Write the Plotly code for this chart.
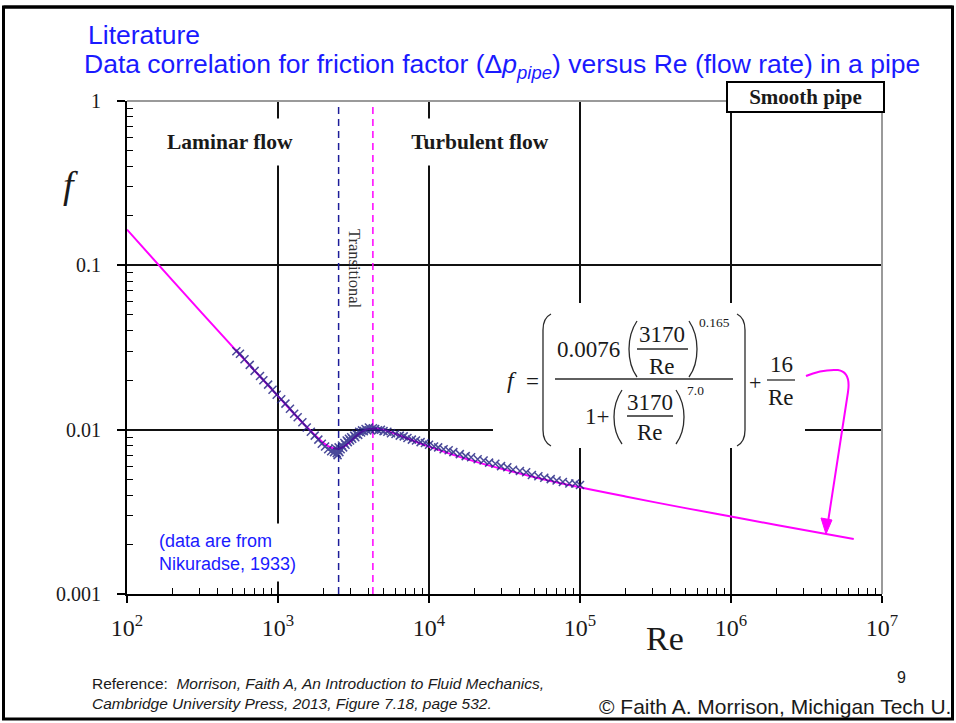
import plotly.graph_objects as go

# ---------------- data ----------------
RE_CURVE = [100, 200, 500, 1000, 1500, 2000, 2250, 2500, 2750, 3000, 3250, 3500,
            3750, 4000, 4500, 5000, 6000, 7000, 10000, 20000, 50000, 100000,
            200000, 500000, 1000000, 2000000, 6500000]
F_CURVE = [0.165, 0.081, 0.032, 0.0160, 0.0107, 0.0083, 0.00778, 0.00766, 0.00792,
           0.00844, 0.00904, 0.00956, 0.00992, 0.01011, 0.01016, 0.00997, 0.00943,
           0.00893, 0.00789, 0.00641, 0.00514, 0.00446, 0.00392, 0.00333, 0.00296,
           0.00263, 0.00216]

RE_DATA = [530, 560, 600, 650, 700, 760, 800, 860, 920, 980, 1050, 1120, 1200, 1280,
           1350, 1450, 1550, 1650, 1750, 1850, 1950, 2050, 2150, 2250, 2350, 2450,
           2500, 2550,
           2400, 2480, 2520, 2600, 2650, 2700, 2750, 2800, 2850, 2900, 2950, 3000,
           3050, 3100, 3200, 3250, 3300, 3400, 3450, 3550, 3600, 3700, 3800, 3900,
           4000, 4100, 4250,
           4400, 4600, 4800, 5000, 5300, 5600, 6000, 6400, 6800, 7200, 7700, 8200,
           8800, 9400, 10000, 10800, 11500, 12500, 13500, 14500, 16000, 17500,
           19000, 21000, 23000, 25000, 27500, 30000, 33000, 36000, 40000, 44000,
           48000, 53000, 58000, 64000, 70000, 77000, 85000, 93000, 100000]
F_DATA = [0.0300, 0.0290, 0.0268, 0.0248, 0.0228, 0.0212, 0.0200, 0.0188, 0.0175,
          0.0163, 0.0153, 0.0144, 0.0134, 0.0125, 0.0119, 0.0111, 0.0103, 0.0097,
          0.0092, 0.0087, 0.0082, 0.0079, 0.0076, 0.0074, 0.0073, 0.0072, 0.0075,
          0.0073,
          0.0077, 0.0070, 0.0078, 0.0076, 0.0080, 0.0078, 0.0083, 0.0081, 0.0086,
          0.0084, 0.0088, 0.0086, 0.0090, 0.0088, 0.0092, 0.0090, 0.0094, 0.0093,
          0.0097, 0.0096, 0.0099, 0.0098, 0.0101, 0.0099, 0.0103, 0.0100, 0.0102,
          0.0101, 0.0099, 0.0100, 0.0098, 0.0097, 0.0095, 0.0094, 0.0092, 0.0091,
          0.0089, 0.0087, 0.0086, 0.0084, 0.0083, 0.0081, 0.0079, 0.0078, 0.0076,
          0.0075, 0.0073, 0.0071, 0.0069, 0.0068, 0.0066, 0.0065, 0.0063, 0.0062,
          0.0060, 0.0059, 0.0057, 0.0056, 0.0055, 0.0053, 0.0052, 0.0051, 0.0050,
          0.0049, 0.0048, 0.0047, 0.0047, 0.0046]

RE_LAMINAR_LIMIT = 2520     # blue dashed line
RE_TURBULENT_START = 4250   # magenta dashed line
F_RANGE = [0.001, 1]

X_TICKS = [1e2, 1e3, 1e4, 1e5, 1e6, 1e7]
X_TICKTEXT = ["10<sup>2</sup>", "10<sup>3</sup>", "10<sup>4</sup>", "10<sup>5</sup>",
              "10<sup>6</sup>", "10<sup>7</sup>"]
Y_TICKS = [0.001, 0.01, 0.1, 1]
Y_TICKTEXT = ["0.001", "0.01", "0.1", "1"]

X_MINOR = [m * 10 ** k for k in range(2, 7) for m in range(2, 10)]
Y_MINOR = [m * 10.0 ** k for k in range(-3, 0) for m in range(2, 10)]

# ---------------- layout geometry ----------------
W, H = 956, 723
ML, MR, MT, MB = 127, 74, 101, 129
PW, PH = W - ML - MR, H - MT - MB


def px(x):
    return (x - ML) / PW


def py(y):
    return (H - MB - y) / PH


def path(points_cmds):
    out = []
    for item in points_cmds:
        if isinstance(item, str):
            out.append(item)
        else:
            out.append(f"{px(item[0]):.5f},{py(item[1]):.5f}")
    return " ".join(out)


SERIF = "Liberation Serif, Times New Roman, serif"
SANS = "Liberation Sans, Arial, sans-serif"
BLUE = "#1a1aff"
MAG = "#ff00ff"
INK = "#1a1a1a"

fig = go.Figure()

fig.add_trace(go.Scatter(x=[RE_LAMINAR_LIMIT, RE_LAMINAR_LIMIT], y=F_RANGE, mode="lines",
                         line=dict(color="#1c1c99", width=1.5, dash="7px,5px"),
                         hoverinfo="skip", showlegend=False))
fig.add_trace(go.Scatter(x=[RE_TURBULENT_START, RE_TURBULENT_START], y=F_RANGE, mode="lines",
                         line=dict(color=MAG, width=1.5, dash="7px,5px"),
                         hoverinfo="skip", showlegend=False))
fig.add_trace(go.Scatter(x=RE_CURVE, y=F_CURVE, mode="lines", line=dict(color=MAG, width=2),
                         line_shape="spline", showlegend=False))
fig.add_trace(go.Scatter(x=RE_DATA, y=F_DATA, mode="markers",
                         marker=dict(symbol="x-thin", size=8,
                                     line=dict(color="#1d1d80", width=1.5)),
                         opacity=0.8, showlegend=False))

shapes = []
# formula white background
shapes.append(dict(type="rect", xref="paper", yref="paper", x0=px(493), x1=px(805),
                   y0=py(448), y1=py(303), fillcolor="white", line=dict(width=0),
                   layer="above"))
# gray top and right frame
shapes.append(dict(type="line", xref="paper", yref="paper", x0=0, x1=1, y0=1, y1=1,
                   line=dict(color="#9a9a9a", width=2), layer="above"))
shapes.append(dict(type="line", xref="paper", yref="paper", x0=1, x1=1, y0=0, y1=1,
                   line=dict(color="#9a9a9a", width=2), layer="above"))

pc = "#2a2a2a"
# big parentheses
shapes.append(dict(type="path", xref="paper", yref="paper", layer="above",
                   path=path(["M", (551, 314), "Q", (543, 318), (543, 330), "L", (543, 430),
                              "Q", (543, 442), (551, 446)]), line=dict(color=pc, width=1.3)))
shapes.append(dict(type="path", xref="paper", yref="paper", layer="above",
                   path=path(["M", (737, 314), "Q", (745, 318), (745, 330), "L", (745, 430),
                              "Q", (745, 442), (737, 446)]), line=dict(color=pc, width=1.3)))
# numerator small parentheses
shapes.append(dict(type="path", xref="paper", yref="paper", layer="above",
                   path=path(["M", (637, 321), "Q", (629, 333), (629, 349), "Q", (629, 366), (637, 377)]),
                   line=dict(color=pc, width=1.3)))
shapes.append(dict(type="path", xref="paper", yref="paper", layer="above",
                   path=path(["M", (689, 321), "Q", (697, 333), (697, 349), "Q", (697, 366), (689, 377)]),
                   line=dict(color=pc, width=1.3)))
# denominator small parentheses
shapes.append(dict(type="path", xref="paper", yref="paper", layer="above",
                   path=path(["M", (622, 390), "Q", (614, 402), (614, 417), "Q", (614, 433), (622, 444)]),
                   line=dict(color=pc, width=1.3)))
shapes.append(dict(type="path", xref="paper", yref="paper", layer="above",
                   path=path(["M", (676, 390), "Q", (684, 402), (684, 417), "Q", (684, 433), (676, 444)]),
                   line=dict(color=pc, width=1.3)))
# fraction bars
for x0, x1, y in [(555, 733, 379), (637, 688, 349), (627, 673, 416), (767, 795, 380)]:
    shapes.append(dict(type="line", xref="paper", yref="paper", layer="above",
                       x0=px(x0), x1=px(x1), y0=py(y), y1=py(y),
                       line=dict(color=pc, width=1.3)))
# magenta curved pointer
shapes.append(dict(type="path", xref="paper", yref="paper", layer="above",
                   path=path(["M", (806, 376), "Q", (822, 369), (838, 370), "Q", (851, 372),
                              (848, 392), "L", (828, 522)]),
                   line=dict(color=MAG, width=2)))
shapes.append(dict(type="path", xref="paper", yref="paper", layer="above",
                   path=path(["M", (826, 534), "L", (821, 518), "L", (832, 520), "Z"]),
                   fillcolor=MAG, line=dict(color=MAG, width=1)))
# slide border
shapes.append(dict(type="rect", xref="paper", yref="paper", x0=px(3.5), x1=px(952.5),
                   y0=py(719), y1=py(7), line=dict(color="black", width=3),
                   fillcolor="rgba(0,0,0,0)", layer="above"))
shapes.append(dict(type="line", xref="paper", yref="paper", x0=px(3.5), x1=px(952.5),
                   y0=py(7), y1=py(7), line=dict(color="black", width=3), layer="above"))

ann = []


def A(text, x, y, size, font=SERIF, color=INK, xa="center", ya="middle", **kw):
    ann.append(dict(text=text, x=px(x), y=py(y), xref="paper", yref="paper",
                    xanchor=xa, yanchor=ya, showarrow=False,
                    font=dict(family=font, size=size, color=color), **kw))


# titles
A("Literature", 86, 35, 26.5, font=SANS, color=BLUE, xa="left")
A("Data correlation for friction factor (Δ<i>p</i><sub><i>pipe</i></sub>) versus Re (flow rate) in a pipe",
  82, 66, 26.5, font=SANS, color=BLUE, xa="left")
# in-plot labels
A("<b>Smooth pipe</b>", 805.5, 97, 21, bgcolor="white", bordercolor="black", borderwidth=2,
  width=155, height=28, borderpad=0)
A("<b>Laminar flow</b>", 230, 142, 21.5, bgcolor="white", width=140, height=44)
A("<b>Turbulent flow</b>", 480, 142, 21.5, bgcolor="white", width=156, height=44)
A("Transitional", 355, 269, 16.5, color="#333333", textangle=90)
A("(data are from<br>Nikuradse, 1933)", 157, 552, 18, font=SANS, color=BLUE, xa="left",
  align="left", bgcolor="white", width=150, height=55)
# axis titles
A("<i>f</i>", 70, 185, 38)
A("Re", 665, 638, 34)
# formula
A("<i>f</i>", 512, 380, 24)
A("=", 532, 381, 23)
A("0.0076", 588, 349, 23)
A("3170", 662, 334, 23)
A("Re", 662, 366, 23)
A("0.165", 714, 322, 13.5)
A("1+", 597, 416, 23)
A("3170", 650, 402, 23)
A("Re", 650, 433, 23)
A("7.0", 695, 390, 13.5)
A("+", 755, 382, 22)
A("16", 781, 364, 23)
A("Re", 781, 397, 23)
# footer
A("Reference:  <i>Morrison, Faith A, An Introduction to Fluid Mechanics,</i><br>"
  "<i>Cambridge University Press, 2013, Figure 7.18, page 532.</i>",
  90, 693, 15.5, font=SANS, color=INK, xa="left", align="left")
A("9", 902, 677, 16, font=SANS, color=INK)
A("© Faith A. Morrison, Michigan Tech U.", 597, 706, 21, font=SANS, color=INK, xa="left")

fig.update_layout(
    width=W, height=H, margin=dict(l=ML, r=MR, t=MT, b=MB),
    paper_bgcolor="white", plot_bgcolor="white",
    shapes=shapes, annotations=ann, showlegend=False,
    xaxis=dict(type="log", range=[2, 7], tickmode="array", tickvals=X_TICKS,
               ticktext=X_TICKTEXT, ticks="outside", ticklen=7, tickwidth=1.5,
               tickcolor="black", showline=True, linecolor="black", linewidth=2,
               showgrid=True, gridcolor="#111111", gridwidth=1.5, zeroline=False,
               tickfont=dict(family=SERIF, size=24, color=INK), ticklabelstandoff=4,
               minor=dict(tickmode="array", tickvals=X_MINOR, ticks="inside", ticklen=6,
                          tickwidth=1.2, tickcolor="black", showgrid=False)),
    yaxis=dict(type="log", range=[-3, 0], tickmode="array", tickvals=Y_TICKS,
               ticktext=Y_TICKTEXT, ticks="outside", ticklen=8, tickwidth=1.5,
               tickcolor="black", showline=True, linecolor="black", linewidth=2,
               showgrid=True, gridcolor="#111111", gridwidth=1.5, zeroline=False,
               tickfont=dict(family=SERIF, size=20, color=INK), ticklabelstandoff=12,
               minor=dict(tickmode="array", tickvals=Y_MINOR, ticks="inside", ticklen=6,
                          tickwidth=1.2, tickcolor="black", showgrid=False)),
)

fig.write_html("out.html", config={"displayModeBar": False},
               post_script="document.body.style.margin='0px';"
                           "document.body.style.overflow='hidden';")
